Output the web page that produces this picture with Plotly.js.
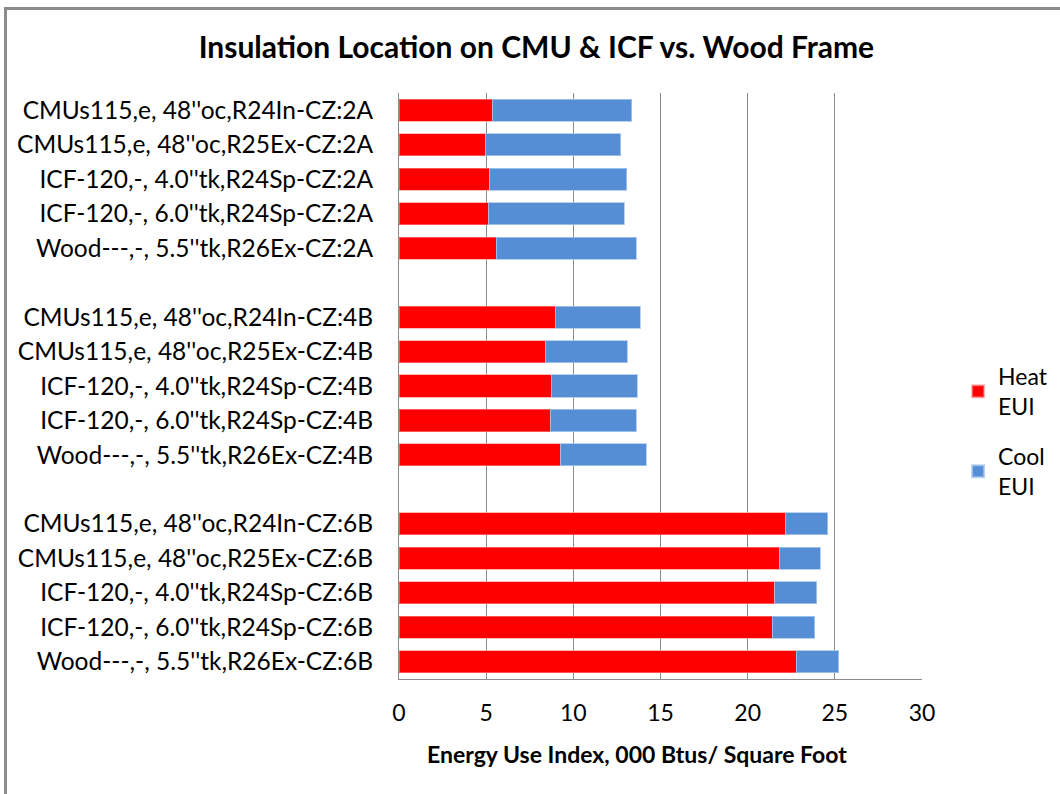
<!DOCTYPE html>
<html>
<head>
<meta charset="utf-8">
<script src="https://cdn.plot.ly/plotly-3.0.1.min.js"></script>
<style>
html,body{margin:0;padding:0;background:#fff;overflow:hidden;}
#frame{position:absolute;left:4px;top:7px;width:1200px;height:900px;border-left:3px solid #8c8c8c;border-top:3px solid #8c8c8c;background:#fff;}
#chart{position:absolute;left:0;top:0;width:1060px;height:794px;}
</style>
</head>
<body>
<div id="frame"></div>
<div id="chart"></div>
<script>
const categories = [
  "CMUs115,e, 48''oc,R24In-CZ:2A",
  "CMUs115,e, 48''oc,R25Ex-CZ:2A",
  "ICF-120,-, 4.0''tk,R24Sp-CZ:2A",
  "ICF-120,-, 6.0''tk,R24Sp-CZ:2A",
  "Wood---,-, 5.5''tk,R26Ex-CZ:2A",
  " ",
  "CMUs115,e, 48''oc,R24In-CZ:4B",
  "CMUs115,e, 48''oc,R25Ex-CZ:4B",
  "ICF-120,-, 4.0''tk,R24Sp-CZ:4B",
  "ICF-120,-, 6.0''tk,R24Sp-CZ:4B",
  "Wood---,-, 5.5''tk,R26Ex-CZ:4B",
  "  ",
  "CMUs115,e, 48''oc,R24In-CZ:6B",
  "CMUs115,e, 48''oc,R25Ex-CZ:6B",
  "ICF-120,-, 4.0''tk,R24Sp-CZ:6B",
  "ICF-120,-, 6.0''tk,R24Sp-CZ:6B",
  "Wood---,-, 5.5''tk,R26Ex-CZ:6B"
];
const heatEUI = [5.39, 4.97, 5.21, 5.16, 5.58, null, 8.96, 8.41, 8.77, 8.71, 9.28, null, 22.17, 21.85, 21.54, 21.41, 22.80];
const coolEUI = [7.95, 7.75, 7.84, 7.75, 8.02, null, 4.89, 4.69, 4.89, 4.89, 4.89, null, 2.43, 2.31, 2.43, 2.44, 2.43];
const xTicks = [0, 5, 10, 15, 20, 25, 30];

const FONT = "Lato, 'Open Sans', sans-serif";

const traces = [
  {type:'bar', orientation:'h', name:'Heat<br>EUI', legendgroup:'heat', y:categories, x:heatEUI,
   marker:{color:'#FF0000', line:{color:'rgba(255,140,140,0.6)', width:1}}},
  {type:'bar', orientation:'h', name:'Cool<br>EUI', legendgroup:'cool', y:categories, x:coolEUI,
   marker:{color:'#558ED5', line:{color:'rgba(170,200,240,0.8)', width:1}}}
];

const layout = {
  width:1060, height:794,
  paper_bgcolor:'rgba(0,0,0,0)', plot_bgcolor:'rgba(0,0,0,0)',
  margin:{l:399, r:138, t:93, b:115, pad:0, autoexpand:false},
  barmode:'stack', bargap:0.36,
  font:{family:FONT, color:'#000', size:23},
  title:{text:'<b>Insulation Location on CMU &amp; ICF vs. Wood Frame</b>',
         font:{family:FONT, size:30, color:'#000'}, x:0.506, xanchor:'center', y:0.94, yanchor:'middle'},
  xaxis:{range:[0,30], tickvals:xTicks, ticktext:xTicks.map(String),
         showgrid:true, gridcolor:'#8c8c8c', gridwidth:1, zeroline:false,
         showline:true, linecolor:'#8c8c8c', linewidth:1, ticks:'', ticklen:0,
         ticklabelstandoff:13,
         tickfont:{family:FONT, size:23, color:'#000'},
         title:{text:'<b>Energy Use Index, 000 Btus/ Square Foot</b>&nbsp;&nbsp;&nbsp;&nbsp;&nbsp;&nbsp;&nbsp;&nbsp;', font:{family:FONT, size:23, color:'#000'}, standoff:22}},
  yaxis:{type:'category', categoryorder:'array', categoryarray:categories, autorange:'reversed',
         showgrid:false, showline:true, linecolor:'#8c8c8c', linewidth:1, ticks:'',
         ticklabelstandoff:20,
         tickfont:{family:FONT, size:24.5, color:'#000'}},
  legend:{x:1.069, xanchor:'left', y:0.553, yanchor:'top', font:{family:FONT, size:23, color:'#000'},
          traceorder:'grouped', tracegroupgap:17, itemsizing:'constant', bgcolor:'rgba(0,0,0,0)'},
  showlegend:true
};

Plotly.newPlot('chart', traces, layout, {displayModeBar:false, staticPlot:true});
</script>
</body>
</html>
